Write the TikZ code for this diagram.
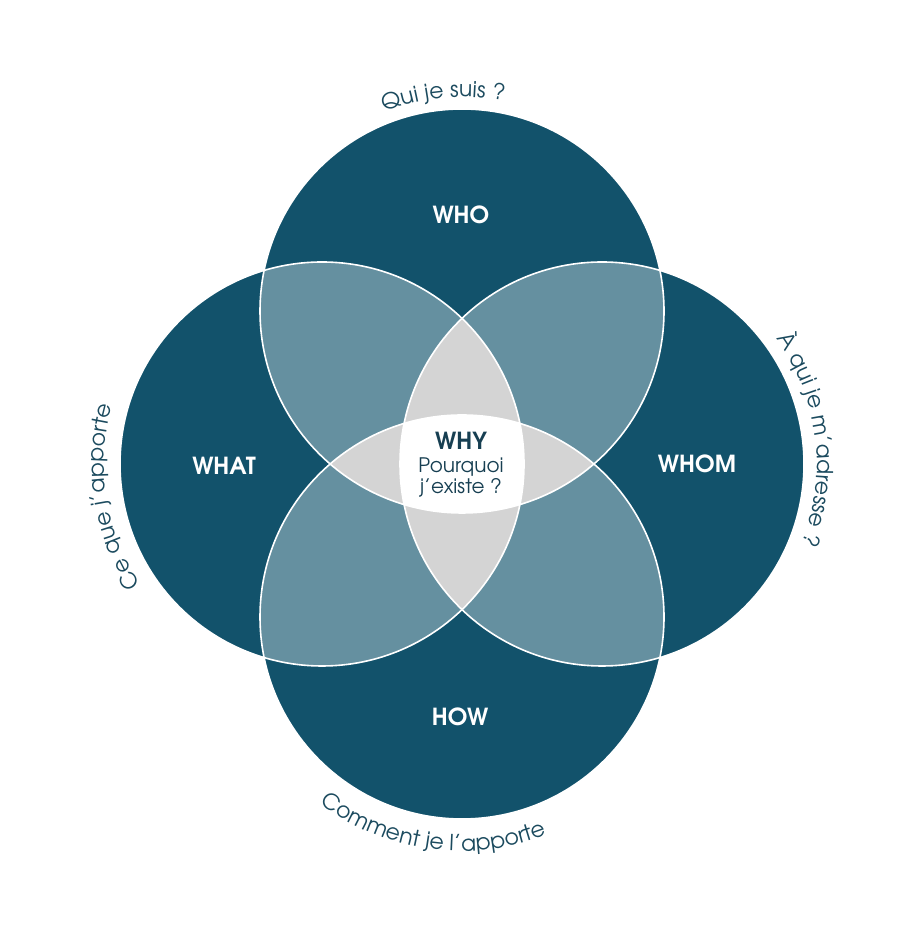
\documentclass[tikz,border=0pt]{standalone}
\usepackage{fontspec}
\setmainfont{TeX Gyre Adventor}
\usetikzlibrary{decorations.text}
\definecolor{dark}{HTML}{12526B}
\definecolor{mid}{HTML}{6590A0}
\definecolor{lgray}{HTML}{D4D4D4}
\definecolor{txt}{HTML}{1B4A5E}
\definecolor{whyc}{HTML}{173F52}
\newcommand\curvefont{\fontsize{22}{26}\selectfont}
\begin{document}
\begin{tikzpicture}[x=1pt,y=1pt,
  lab/.style={text=white,font=\bfseries\fontsize{23.5}{27}\selectfont,inner sep=0pt,anchor=base},
  whylab/.style={text=whyc,font=\bfseries\fontsize{23.5}{27}\selectfont,inner sep=0pt,anchor=base},
  sub/.style={text=whyc,font=\fontsize{20}{24}\selectfont,inner sep=0pt,anchor=base},
  edge/.style={draw=white,line width=1.6pt},
  curved/.style={decorate,decoration={text along path,text align=center,text color=txt,text={#1}}}]
\useasboundingbox (0,0) rectangle (914,939);
\coordinate (cT) at (462,628);
\coordinate (cB) at (462,322);
\coordinate (cL) at (322,475);
\coordinate (cR) at (602,475);
\def\rr{202}
\def\cT{(cT) circle[radius=\rr]}
\def\cB{(cB) circle[radius=\rr]}
\def\cL{(cL) circle[radius=\rr]}
\def\cR{(cR) circle[radius=\rr]}
% single circles
\fill[dark] \cT; \fill[dark] \cB; \fill[dark] \cL; \fill[dark] \cR;
% pairs
\begin{scope}\clip \cT; \fill[mid] \cL; \fill[mid] \cR; \fill[mid] \cB;\end{scope}
\begin{scope}\clip \cB; \fill[mid] \cL; \fill[mid] \cR;\end{scope}
\begin{scope}\clip \cL; \fill[mid] \cR;\end{scope}
% triples
\begin{scope}\clip \cL; \clip \cR; \fill[lgray] \cT; \fill[lgray] \cB;\end{scope}
\begin{scope}\clip \cT; \clip \cB; \fill[lgray] \cL; \fill[lgray] \cR;\end{scope}
% quadruple
\begin{scope}\clip \cT; \clip \cB; \clip \cL; \fill[white] \cR;\end{scope}
% outlines
\draw[edge] \cT; \draw[edge] \cB; \draw[edge] \cL; \draw[edge] \cR;
% labels
\node[lab] (who) at (461,715) {WHO};
\node[lab] (what) at (224,464) {WHAT};
\node[lab] (whom) at (697,466) {WHOM};
\node[lab] (how) at (460,213) {HOW};
\node[whylab] (why) at (461,489) {WHY};
\node[sub] (pq) at (461,466) {Pourquoi};
\node[sub] (ex) at (461,445) {j’existe ?};
% curved texts
\path[curved={|\curvefont|Qui je suis ?}] ([shift={(150:214)}]cT) arc[start angle=150,end angle=40,radius=214];
\path[curved={|\curvefont|À qui je m’adresse ?}] ([shift={(62:215)}]cR) arc[start angle=62,end angle=-48,radius=215];
\path[curved={|\curvefont|Ce que j’apporte}] ([shift={(244:218)}]cL) arc[start angle=244,end angle=134,radius=218];
\path[curved={|\curvefont|Comment je l’apporte}] ([shift={(207:234)}]cB) arc[start angle=207,end angle=317,radius=234];
\end{tikzpicture}
\end{document}
